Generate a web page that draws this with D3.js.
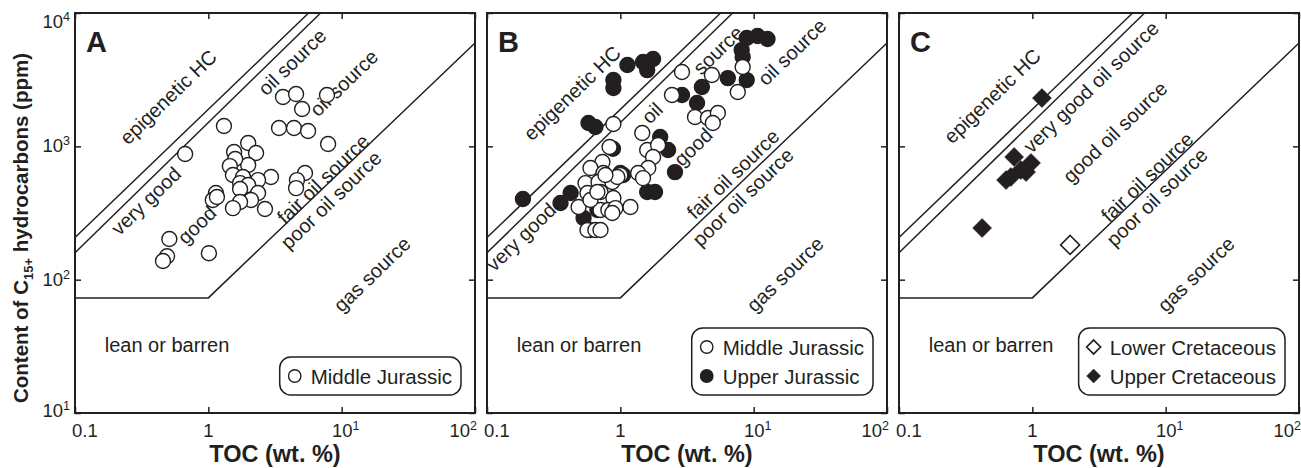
<!DOCTYPE html>
<html>
<head>
<meta charset="utf-8">
<script src="https://cdn.jsdelivr.net/npm/d3@7"></script>
<style>
  body { margin: 0; background: #fff; }
  text { font-family: "Liberation Sans", Arial, sans-serif; fill: #231f20; }
</style>
</head>
<body>
<div id="container"></div>
<script>
console.log("script loaded");

///////////////////////////

let w = 1301;
let h = 468;
let plotWidth = 400;
let plotTop = 13;
let plotBottom = 413;
let panelLefts = [75, 487, 899];
let ink = "#231f20";

let xTicks = [0.1, 1, 10, 100];
let xTickBase = ["0.1", "1", "10", "10"];
let xTickExp = ["", "", "1", "2"];
let yTicks = [10, 100, 1000, 10000];
let yTickBase = ["10", "10", "10", "10"];
let yTickExp = ["1", "2", "3", "4"];

// boundary lines [TOC, C15+ ppm]
let epigeneticLine = [[0.1, 207], [5.65, 10000]];
let veryGoodLine = [[0.1, 159], [6.95, 10000]];
let poorLine = [[0.1, 73], [1, 73], [100, 5960]];

// samples [TOC wt.%, C15+ ppm]
let middleJurassicA = [
  [0.67, 875], [1.31, 1420], [3.63, 2345], [4.55, 2466], [5.05, 1905], [7.76, 2427],
  [3.39, 1371], [4.39, 1371], [5.60, 1303], [7.91, 1040], [1.99, 1059], [1.56, 906],
  [2.28, 891], [1.99, 724], [1.59, 804], [1.45, 711], [1.53, 609], [1.82, 589],
  [2.95, 589], [2.36, 558], [1.73, 530], [1.99, 513], [2.36, 447], [1.73, 479],
  [2.09, 396], [1.73, 382], [1.53, 344], [2.66, 339], [5.31, 631], [4.62, 558],
  [4.55, 486], [1.14, 447], [1.08, 396], [1.16, 417], [0.51, 202], [0.49, 150],
  [0.457, 138], [1.01, 158]
];

let upperJurassicB = [
  [0.186, 403], [0.356, 376], [0.424, 447], [0.577, 1496], [0.65, 1397], [0.887, 3141],
  [0.887, 2736], [1.13, 4074], [1.48, 4290], [1.76, 4520], [1.59, 3730], [8.87, 6490],
  [10.7, 6715], [12.7, 6380], [8.13, 5270], [8.27, 4677], [6.40, 3250], [8.87, 3140],
  [4.09, 2786], [3.76, 2113], [2.90, 2427], [1.99, 1175], [2.28, 938], [2.57, 641],
  [1.59, 454], [1.82, 454], [1.0, 631], [1.05, 610], [0.88, 960], [0.53, 290], [0.673, 333]
];

let middleJurassicB = [
  [0.887, 1469], [0.83, 988], [1.46, 1259], [1.59, 938], [1.92, 1023], [1.76, 832],
  [1.62, 687], [1.36, 631], [1.19, 351], [2.90, 3606], [4.86, 3427], [2.44, 2427],
  [3.63, 1660], [4.54, 1631], [5.39, 1778], [4.94, 1496], [8.27, 3935], [7.6, 2553],
  [0.734, 762], [0.597, 687], [0.747, 631], [1.0, 609], [0.548, 530], [0.686, 540],
  [0.871, 540], [0.567, 447], [0.71, 454], [0.887, 410], [0.486, 351], [0.71, 333],
  [0.813, 333], [0.918, 344], [0.597, 236], [0.567, 236], [0.65, 236], [0.71, 236],
  [0.95, 589], [0.773, 609], [0.597, 396], [0.871, 316], [1.48, 578], [0.673, 454]
];

let lowerCretaceousC = [[1.92, 182]];
let upperCretaceousC = [
  [1.18, 2300], [0.73, 832], [0.977, 750], [0.82, 664], [0.69, 589], [0.635, 558],
  [0.897, 641], [0.42, 244]
];

// region names, anchored at [TOC, ppm]
let labelsA = [
  ["epigenetic HC", 0.50, 2345], ["oil source", 4.25, 4285], ["very good", 0.341, 389],
  ["good", 0.822, 257], ["oil source", 10.4, 2985], ["fair oil source", 7.25, 569],
  ["poor oil source", 8.32, 396], ["gas source", 16.9, 110]
];
let labelsB = [
  ["epigenetic HC", 0.435, 2512], ["very good", 0.18, 209], ["oil", 1.73, 1778],
  ["source", 5.41, 5275], ["good", 3.51, 988], ["oil source", 19.4, 5095],
  ["fair oil source", 7.0, 620], ["poor oil source", 8.3, 416], ["gas source", 17.2, 110]
];
let labelsC = [
  ["epigenetic HC", 0.50, 2385], ["very good oil source", 2.75, 2786],
  ["good oil source", 4.17, 1280], ["fair oil source", 7.25, 589],
  ["poor oil source", 8.6, 416], ["gas source", 16.9, 110]
];
let leanLabel = ["lean or barren", 0.49, 32.3];

///////////////////////////

let panels = [
  {
    letter: "A",
    labels: labelsA,
    series: [
      {name: "Middle Jurassic", data: middleJurassicA, shape: "circle", filled: false}
    ]
  },
  {
    letter: "B",
    labels: labelsB,
    series: [
      {name: "Upper Jurassic", data: upperJurassicB, shape: "circle", filled: true},
      {name: "Middle Jurassic", data: middleJurassicB, shape: "circle", filled: false}
    ],
    legendOrder: [1, 0]
  },
  {
    letter: "C",
    labels: labelsC,
    series: [
      {name: "Lower Cretaceous", data: lowerCretaceousC, shape: "diamond", filled: false},
      {name: "Upper Cretaceous", data: upperCretaceousC, shape: "diamond", filled: true}
    ]
  }
];

let viz = d3.select("#container").append("svg")
    .attr("width", w)
    .attr("height", h)
    .style("display", "block")
    .style("background-color", "white")
;

let yScale = d3.scaleLog().domain([10, 10000]).range([plotBottom, plotTop]);

function drawMark(sel, shape, filled, size){
  if(shape === "circle"){
    sel.append("circle")
      .attr("r", size)
      .attr("fill", filled ? ink : "white")
      .attr("stroke", ink)
      .attr("stroke-width", 1.4);
  } else {
    sel.append("path")
      .attr("d", d3.symbol().type(d3.symbolSquare).size(2 * size * size))
      .attr("transform", "rotate(45)")
      .attr("fill", filled ? ink : "white")
      .attr("stroke", ink)
      .attr("stroke-width", filled ? 0.5 : 1.6);
  }
}

panels.forEach(function(p, i){
  let left = panelLefts[i];
  let xScale = d3.scaleLog().domain([0.1, 100]).range([left, left + plotWidth]);
  let g = viz.append("g").attr("class", "panel");

  // boundaries
  let line = d3.line().x(d => xScale(d[0])).y(d => yScale(d[1]));
  [epigeneticLine, veryGoodLine, poorLine].forEach(function(l){
    g.append("path")
      .attr("d", line(l))
      .attr("fill", "none")
      .attr("stroke", ink)
      .attr("stroke-width", 1.5);
  });

  // region names
  p.labels.forEach(function(l){
    g.append("text")
      .attr("transform", "translate(" + xScale(l[1]) + "," + yScale(l[2]) + ") rotate(-44)")
      .attr("text-anchor", "middle")
      .attr("dominant-baseline", "central")
      .style("font-size", "20px")
      .text(l[0]);
  });
  g.append("text")
    .attr("x", xScale(leanLabel[1]))
    .attr("y", yScale(leanLabel[2]))
    .attr("text-anchor", "middle")
    .attr("dominant-baseline", "central")
    .style("font-size", "20px")
    .text(leanLabel[0]);

  // samples
  p.series.forEach(function(s){
    let marks = g.selectAll(".m" + s.name.replace(/ /g, "")).data(s.data)
      .enter()
        .append("g")
        .attr("transform", d => "translate(" + xScale(d[0]) + "," + yScale(d[1]) + ")");
    drawMark(marks, s.shape, s.filled, s.shape === "circle" ? 7.5 : 9.5);
  });

  // ticks, inward on all sides
  g.append("g").attr("transform", "translate(0," + plotBottom + ")")
    .call(d3.axisBottom(xScale).tickValues(xTicks).tickSize(-6).tickFormat(""));
  g.append("g").attr("transform", "translate(0," + plotTop + ")")
    .call(d3.axisTop(xScale).tickValues(xTicks).tickSize(-6).tickFormat(""));
  g.append("g").attr("transform", "translate(" + left + ",0)")
    .call(d3.axisLeft(yScale).tickValues(yTicks).tickSize(-6).tickFormat(""));
  g.append("g").attr("transform", "translate(" + (left + plotWidth) + ",0)")
    .call(d3.axisRight(yScale).tickValues(yTicks).tickSize(-6).tickFormat(""));
  g.selectAll(".domain").remove();
  g.selectAll(".tick line").attr("stroke", ink).attr("stroke-width", 1.5);

  g.append("rect")
    .attr("x", left)
    .attr("y", plotTop)
    .attr("width", plotWidth)
    .attr("height", plotBottom - plotTop)
    .attr("fill", "none")
    .attr("stroke", ink)
    .attr("stroke-width", 2);

  // x tick labels
  xTicks.forEach(function(t, k){
    let anchor = k === 0 ? "start" : (k === xTicks.length - 1 ? "end" : "middle");
    let tx = xScale(t) + (k === 0 ? -3 : (k === xTicks.length - 1 ? 2 : (xTickExp[k] ? 4 : 0)));
    let txt = g.append("text")
      .attr("x", tx)
      .attr("y", 437)
      .attr("text-anchor", anchor)
      .style("font-size", "18.5px");
    txt.append("tspan").text(xTickBase[k]);
    if(xTickExp[k]){
      txt.append("tspan").attr("dy", -7).style("font-size", "12.5px").text(xTickExp[k]);
    }
  });

  // y tick labels, first panel only
  if(i === 0){
    yTicks.forEach(function(t, k){
      let off = t === 10000 ? 15 : (t === 10 ? 4 : 6);
      let txt = g.append("text")
        .attr("x", left - 5)
        .attr("y", yScale(t) + off)
        .attr("text-anchor", "end")
        .style("font-size", "18.5px");
      txt.append("tspan").text(yTickBase[k]);
      txt.append("tspan").attr("dy", -7).style("font-size", "12.5px").text(yTickExp[k]);
    });
  }

  // panel letter
  g.append("text")
    .attr("x", left + 11)
    .attr("y", 52)
    .style("font-size", "29px")
    .style("font-weight", "bold")
    .text(p.letter);

  // x title
  g.append("text")
    .attr("x", left + plotWidth / 2)
    .attr("y", 462)
    .attr("text-anchor", "middle")
    .style("font-size", "23.5px")
    .style("font-weight", "bold")
    .text("TOC (wt. %)");

  // legend
  let order = p.legendOrder || p.series.map((s, k) => k);
  let rowH = 29;
  let boxH = 38 + rowH * (order.length - 1);
  let leg = g.append("g");
  let box = leg.append("rect")
    .attr("fill", "white")
    .attr("stroke", ink)
    .attr("stroke-width", 1.5)
    .attr("rx", 11);
  let maxLen = 0;
  order.forEach(function(k, r){
    let s = p.series[k];
    let row = leg.append("g").attr("transform", "translate(15," + (19 + r * rowH) + ")");
    drawMark(row, s.shape, s.filled, s.shape === "circle" ? 6.2 : 7);
    let t = row.append("text")
      .attr("x", 16)
      .attr("dominant-baseline", "central")
      .style("font-size", "20.5px")
      .text(s.name);
    maxLen = Math.max(maxLen, t.node().getComputedTextLength());
  });
  let boxW = 31 + maxLen + 9;
  box.attr("width", boxW).attr("height", boxH);
  leg.attr("transform", "translate(" + (left + plotWidth - 14 - boxW) + "," + (plotBottom - 18 - boxH) + ")");
});

// y title
let yTitle = viz.append("text")
  .attr("transform", "translate(28,228) rotate(-90)")
  .attr("text-anchor", "middle")
  .style("font-size", "20.5px")
  .style("font-weight", "bold");
yTitle.append("tspan").text("Content of C");
yTitle.append("tspan").attr("dy", 5).style("font-size", "13px").text("15+");
yTitle.append("tspan").attr("dy", -5).text(" hydrocarbons (ppm)");

console.log("loaded");
</script>
</body>
</html>
